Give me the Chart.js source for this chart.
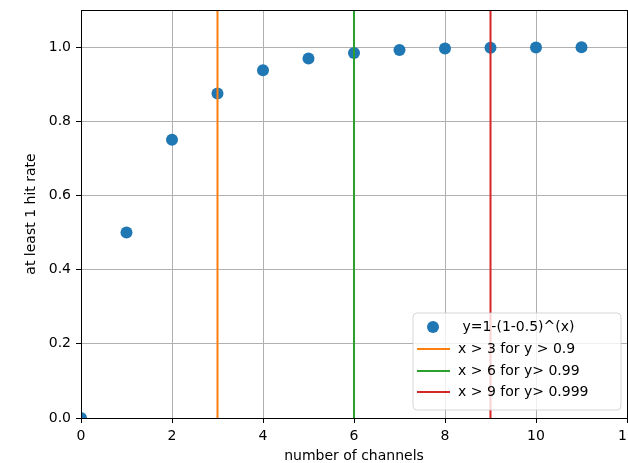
<!DOCTYPE html>
<html>
<head>
<meta charset="utf-8">
<script src="https://cdn.jsdelivr.net/npm/chart.js@4"></script>
<style>
  html, body { margin: 0; padding: 0; background: #fff; overflow: hidden; }
  #wrap { width: 628px; height: 463px; overflow: hidden; }
</style>
</head>
<body>
<div id="wrap"><canvas id="myChart" width="633" height="463"></canvas></div>
<script>
const channels = [0, 1, 2, 3, 4, 5, 6, 7, 8, 9, 10, 11];
const hitRate = [0, 0.5, 0.75, 0.875, 0.9375, 0.969, 0.984, 0.992, 0.996, 0.998, 0.999, 0.9995];
const thresholdX = [3, 6, 9];
const thresholdLabels = ["x > 3 for y > 0.9", "x > 6 for y> 0.99", "x > 9 for y> 0.999"];
const thresholdColors = ["#ff7f0e", "#2ca02c", "#d62728"];
const pointLabel = " y=1-(1-0.5)^(x)";
const yRange = [0, 1.1];
const xRange = [0, 12];

const font = "DejaVu Sans";

const datasets = [{
    label: pointLabel,
    data: channels.map((x, i) => ({ x: x, y: hitRate[i] })),
    backgroundColor: "#1f77b4",
    borderColor: "#1f77b4",
    pointRadius: 6,
    pointHoverRadius: 6,
    borderWidth: 0,
    showLine: false,
    clip: 0,
    order: 1
}];
thresholdX.forEach((x, i) => {
    datasets.push({
        label: thresholdLabels[i],
        data: [{ x: x, y: yRange[0] }, { x: x, y: yRange[1] }],
        borderColor: thresholdColors[i],
        backgroundColor: thresholdColors[i],
        borderWidth: 2,
        pointRadius: 0,
        showLine: true,
        clip: 0,
        order: 0
    });
});

// frame + matplotlib-like legend box
const frameAndLegend = {
    id: "frameAndLegend",
    afterDatasetsDraw(chart) {
        const ctx = chart.ctx;
        const a = chart.chartArea;
        ctx.save();
        ctx.strokeStyle = "#000";
        ctx.lineWidth = 1;
        ctx.strokeRect(Math.round(a.left) + 0.5, Math.round(a.top) + 0.5,
            Math.round(a.right - a.left), Math.round(a.bottom - a.top));

        // legend
        const bx = 413, by = 313, bw = 208, bh = 97, r = 4;
        ctx.beginPath();
        ctx.moveTo(bx + r, by);
        ctx.arcTo(bx + bw, by, bx + bw, by + bh, r);
        ctx.arcTo(bx + bw, by + bh, bx, by + bh, r);
        ctx.arcTo(bx, by + bh, bx, by, r);
        ctx.arcTo(bx, by, bx + bw, by, r);
        ctx.closePath();
        ctx.fillStyle = "rgba(255,255,255,0.8)";
        ctx.fill();
        ctx.strokeStyle = "rgba(204,204,204,0.8)";
        ctx.lineWidth = 1;
        ctx.stroke();

        ctx.font = "14px '" + font + "'";
        ctx.textBaseline = "middle";
        const rowY = [327, 349, 371, 392];
        chart.data.datasets.forEach((ds, i) => {
            const y = rowY[i];
            if (i === 0) {
                ctx.beginPath();
                ctx.fillStyle = ds.backgroundColor;
                ctx.arc(433, y, 6, 0, Math.PI * 2);
                ctx.fill();
            } else {
                ctx.beginPath();
                ctx.strokeStyle = ds.borderColor;
                ctx.lineWidth = 2;
                ctx.moveTo(417, y);
                ctx.lineTo(450, y);
                ctx.stroke();
            }
            ctx.fillStyle = "#000";
            ctx.fillText(ds.label, 458, y);
        });
        ctx.restore();
    }
};

new Chart("myChart", {
    type: "scatter",
    data: { datasets: datasets },
    options: {
        responsive: false,
        animation: false,
        layout: { padding: { left: 0, right: 1, top: 10, bottom: 0 } },
        plugins: {
            legend: { display: false },
            tooltip: { enabled: false }
        },
        scales: {
            x: {
                type: "linear",
                min: xRange[0],
                max: xRange[1],
                afterFit(scale) {
                    scale.height = 45;
                    scale.paddingLeft = 0;
                    scale.paddingRight = 0;
                },
                ticks: {
                    stepSize: 2,
                    color: "#000",
                    padding: 5,
                    font: { family: font, size: 14 },
                    callback: v => String(v)
                },
                grid: { color: "#b0b0b0", tickColor: "#000", tickLength: 5, lineWidth: 1 },
                border: { color: "#000", width: 1 },
                title: {
                    display: true,
                    text: "number of channels",
                    color: "#000",
                    font: { family: font, size: 14, lineHeight: 1 },
                    padding: { top: 0, bottom: 0 }
                }
            },
            y: {
                type: "linear",
                min: yRange[0],
                max: yRange[1],
                afterFit(scale) {
                    scale.width = 81;
                    scale.paddingTop = 0;
                    scale.paddingBottom = 0;
                },
                ticks: {
                    stepSize: 0.2,
                    includeBounds: false,
                    color: "#000",
                    padding: 5,
                    font: { family: font, size: 14 },
                    callback: v => v.toFixed(1)
                },
                grid: { color: "#b0b0b0", tickColor: "#000", tickLength: 5, lineWidth: 1 },
                border: { color: "#000", width: 1 },
                title: {
                    display: true,
                    text: "at least 1 hit rate",
                    color: "#000",
                    font: { family: font, size: 14, lineHeight: 1 },
                    padding: { top: 24, bottom: 0 }
                }
            }
        }
    },
    plugins: [frameAndLegend]
});
</script>
</body>
</html>
